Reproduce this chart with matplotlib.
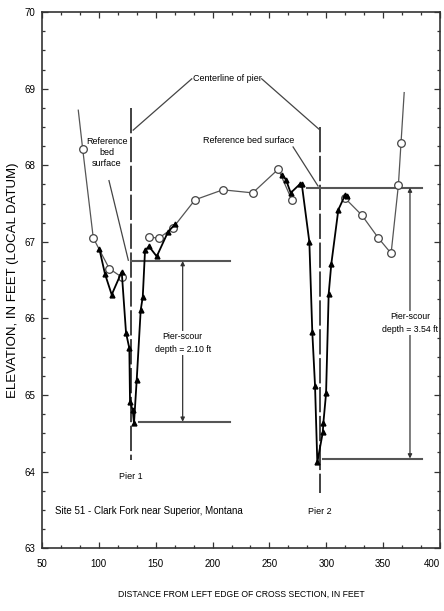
import matplotlib.pyplot as plt
import numpy as np
from matplotlib.ticker import MultipleLocator

plt.rcParams['font.family'] = ['Liberation Sans Narrow', 'Liberation Sans', 'DejaVu Sans']

# open-circle survey line (nan = break at the piers)
circ_x = [81.9, 85.8, 95.1, 109.2, 120.1, np.nan,
          144.4, 152.9, 165.0, 184.6, 209.0, 235.3, 257.8, 269.6, np.nan,
          316.5, 331.2, 345.8, 357.0, 363.4, 365.7, 368.5]
circ_y = [68.72, 68.21, 67.05, 66.65, 66.54, np.nan,
          67.06, 67.05, 67.18, 67.55, 67.68, 67.64, 67.95, 67.55, np.nan,
          67.57, 67.35, 67.05, 66.85, 67.74, 68.29, 68.95]

# filled-marker scour hole soundings
p1_x = [100.4, 105.4, 111.3, 120.1, 123.9, 126.8, 127.4, 129.8, 130.9,
        133.3, 136.8, 138.6, 140.6, 144.1, 150.9, 160.8, 167.0]
p1_y = [66.91, 66.58, 66.31, 66.61, 65.81, 65.61, 64.91, 64.80, 64.63,
        65.20, 66.11, 66.28, 66.89, 66.94, 66.81, 67.13, 67.23]
p2_x = [261.0, 264.6, 268.7, 276.5, 278.4, 285.1, 287.7, 290.1, 292.1,
        296.9, 297.4, 299.8, 302.1, 304.4, 310.6, 316.5, 318.5]
p2_y = [67.88, 67.81, 67.64, 67.75, 67.76, 67.00, 65.82, 65.12, 64.12,
        64.51, 64.63, 65.02, 66.32, 66.71, 67.42, 67.61, 67.60]

piers = [128.0, 294.5]
ref_bed = [66.75, 67.71]
scour = [2.10, 3.54]
xticks = [50, 100, 150, 200, 250, 300, 350, 400]

fig = plt.figure(figsize=(4.44, 6.11), dpi=100)
ax = fig.add_axes([0.0946, 0.103, 0.8964, 0.877])

ax.plot(circ_x, circ_y, color='#555555', lw=0.9, marker='o', ms=5.5,
        mfc='white', mec='#444444', mew=0.9, markevery=list(range(1, 21)), zorder=3)
ax.plot(p1_x, p1_y, color='black', lw=1.3, marker='^', ms=3.5, zorder=4)
ax.plot(p2_x, p2_y, color='black', lw=1.3, marker='^', ms=3.5, zorder=4)

# pier centerlines
ax.plot([piers[0], piers[0]], [68.75, 64.15], color='#333333', lw=1.3, dashes=(14, 2), zorder=2)
ax.plot([piers[1], piers[1]], [68.5, 63.72], color='#333333', lw=1.3, dashes=(14, 2), zorder=2)

# reference bed and scour bottom lines
ax.plot([piers[0], 215], [ref_bed[0], ref_bed[0]], color='#555555', lw=1.5, zorder=2)
ax.plot([135.3, 215], [ref_bed[0] - scour[0]] * 2, color='#555555', lw=1.5, zorder=2)
ax.plot([283, 384], [ref_bed[1], ref_bed[1]], color='#555555', lw=1.5, zorder=2)
ax.plot([297, 384], [ref_bed[1] - scour[1]] * 2, color='#555555', lw=1.5, zorder=2)

for xa, rb, sd in [(173.7, ref_bed[0], scour[0]), (373.6, ref_bed[1], scour[1])]:
    ax.annotate('', xy=(xa, rb - sd), xytext=(xa, rb),
                arrowprops=dict(arrowstyle='<|-|>', color='#333333', lw=0.9,
                                mutation_scale=6, shrinkA=0, shrinkB=0))
ax.text(173.7, 65.68, 'Pier-scour\ndepth = 2.10 ft', ha='center', va='center',
        fontsize=6.3, linespacing=1.5, bbox=dict(fc='white', ec='none', pad=1))
ax.text(373.6, 65.94, 'Pier-scour\ndepth = 3.54 ft', ha='center', va='center',
        fontsize=6.3, linespacing=1.5, bbox=dict(fc='white', ec='none', pad=1))

# callouts
ax.text(213, 69.14, 'Centerline of pier', ha='center', va='center', fontsize=6.5)
ax.plot([130.2, 181.7], [68.46, 69.13], color='#444444', lw=0.9)
ax.plot([243.2, 294.5], [69.13, 68.46], color='#444444', lw=0.9)
ax.text(106.9, 68.17, 'Reference\nbed\nsurface', ha='center', va='center',
        fontsize=6.5, linespacing=1.3)
ax.plot([108.9, 125.9], [67.80, 66.76], color='#444444', lw=0.9)
ax.text(232, 68.33, 'Reference bed surface', ha='center', va='center', fontsize=6.5)
ax.plot([270.8, 292.7], [68.24, 67.73], color='#444444', lw=0.9)

ax.text(piers[0], 63.94, 'Pier 1', ha='center', va='center', fontsize=6.5)
ax.text(piers[1], 63.48, 'Pier 2', ha='center', va='center', fontsize=6.5)
ax.text(61.4, 63.48, 'Site 51 - Clark Fork near Superior, Montana', ha='left',
        va='center', fontsize=7)

ax.set_xlim(50, 400)
ax.set_ylim(63, 70)
ax.set_xticks(xticks)
ax.xaxis.set_minor_locator(MultipleLocator(50 / 3))
ax.yaxis.set_major_locator(MultipleLocator(1))
ax.yaxis.set_minor_locator(MultipleLocator(0.25))
ax.tick_params(which='both', direction='in', top=True, right=True, labelsize=7,
               width=0.9, color='#333333')
ax.tick_params(which='major', length=4)
ax.tick_params(axis='x', which='major', pad=8)
ax.tick_params(axis='y', which='major', pad=5)
ax.tick_params(which='minor', length=2.5)
for s in ax.spines.values():
    s.set_linewidth(1.2)
    s.set_color('#333333')
ax.get_xticklabels()[-1].set_horizontalalignment('right')

ax.set_xlabel('DISTANCE FROM LEFT EDGE OF CROSS SECTION, IN FEET', fontsize=6.2, labelpad=15)
ax.set_ylabel('ELEVATION, IN FEET (LOCAL DATUM)', fontsize=9.5, labelpad=4)

fig.savefig('out.png', dpi=100)
